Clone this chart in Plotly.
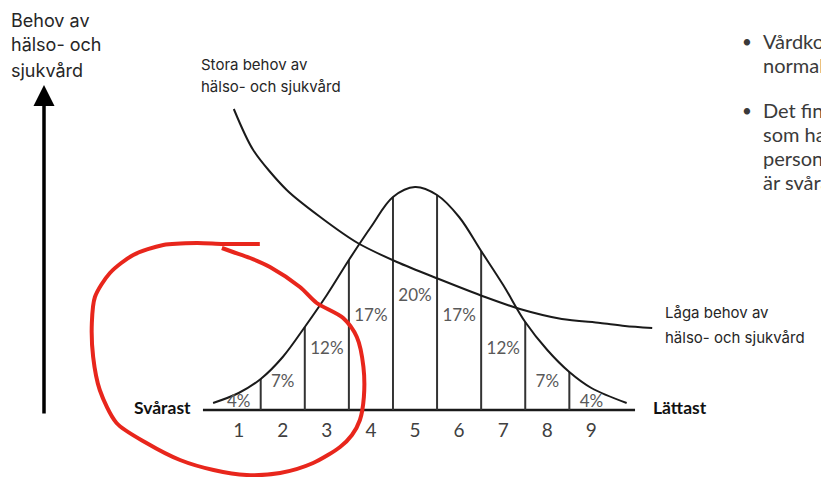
import plotly.graph_objects as go

# -------------------------------------------------------------------
# Data
# x is in "category units" (1..9 = difficulty step), h is height above
# the baseline in the picture's own units.
# -------------------------------------------------------------------
categories = [1, 2, 3, 4, 5, 6, 7, 8, 9]
tick_labels = ["1", "2", "3", "4", "5", "6", "7", "8", "9"]
shares = [4, 7, 12, 17, 20, 17, 12, 7, 4]

bell_x = [0.42, 1.0, 1.5, 2.0, 2.5, 3.0, 3.5, 4.0, 4.5, 5.0, 5.5, 6.0, 6.5, 7.0, 7.5, 8.0, 8.5, 9.0, 9.8]
bell_h = [7, 17, 31, 53, 83, 115, 150, 183, 213, 223, 215, 193, 159, 125, 88, 60, 38, 22, 7]

need_x = [0.89, 1.33, 2.09, 2.85, 3.70, 4.59, 5.54, 6.59, 7.38, 8.33, 9.20, 9.76, 10.38]
need_h = [301, 260, 220, 193, 167, 148, 131, 113, 101, 91, 87, 84, 82]

circle_x = [0.62, 0.87, 1.26, 1.71, 2.39, 2.77, 3.37, 3.68, 3.83, 3.84, 3.75, 3.57, 3.30,
            2.69, 1.94, 1.18, 0.43, -0.33, -1.09, -1.77, -2.15, -2.30, -2.33, -2.26,
            -1.92, -1.39, -0.71, 0.05, 0.65, 1.48]
circle_h = [162, 158, 152, 143, 123, 107, 92, 73, 43, 13, -10, -25, -37,
            -53, -63, -65, -60, -50, -33, -13, 20, 53, 87, 113,
            137, 155, 165, 167, 166, 166]

bullet_lines = [
    ["Vårdkonsumtionen är", "normalfördelad"],
    ["Det finns en grupp", "som har stora behov,", "personer vars behov", "är svårast att möta"],
]

W, H = 821, 477
X_RANGE = [-4.413, 14.208]
Y_RANGE = [-67, 410]

INK = "#1a1a1a"
GREY = "#595959"
RED = "#e8261c"


def px(x):
    return x / W


def py(y):
    return 1 - y / H


def text_note(text, x, y, size, font="Inter", color="#262626", anchor="left", bold=False):
    if bold:
        text = f"<b>{text}</b>"
    return dict(
        text=text, x=px(x), y=py(y), xref="paper", yref="paper",
        xanchor=anchor, yanchor="middle", showarrow=False,
        font=dict(family=font, size=size, color=color),
    )


fig = go.Figure()

# baseline
fig.add_trace(go.Scatter(
    x=[bell_x[0] - 0.23, bell_x[-1] + 0.19], y=[0, 0],
    mode="lines", line=dict(color=INK, width=2.5), hoverinfo="skip",
))

# vertical separators between categories, up to the curve
bell_lookup = dict(zip(bell_x, bell_h))
for c in categories[:-1]:
    b = c + 0.5
    fig.add_trace(go.Scatter(
        x=[b, b], y=[0, bell_lookup[b]],
        mode="lines", line=dict(color="#333333", width=2), hoverinfo="skip",
    ))

# bell curve
fig.add_trace(go.Scatter(
    x=bell_x, y=bell_h, mode="lines",
    line=dict(color=INK, width=2, shape="spline", smoothing=1.0), hoverinfo="skip",
))

# decreasing need curve
fig.add_trace(go.Scatter(
    x=need_x, y=need_h, mode="lines",
    line=dict(color=INK, width=2, shape="spline", smoothing=0.8), hoverinfo="skip",
))

# percentage labels inside each band
fig.add_trace(go.Scatter(
    x=categories, y=[6.6 * s - 19 for s in shares],
    mode="text", text=[f"{s}%" for s in shares],
    textfont=dict(family="Lato", size=17, color=GREY), hoverinfo="skip",
))

# category numbers under the baseline
fig.add_trace(go.Scatter(
    x=categories, y=[-22] * len(categories),
    mode="text", text=tick_labels,
    textfont=dict(family="Lato", size=19, color="#404040"), hoverinfo="skip",
))

# red hand drawn circle
fig.add_trace(go.Scatter(
    x=circle_x, y=circle_h, mode="lines",
    line=dict(color=RED, width=4, shape="spline", smoothing=0.8), hoverinfo="skip",
))

annotations = [
    text_note("Behov av", 9, 21, 18),
    text_note("hälso- och", 9, 45, 18),
    text_note("sjukvård", 9, 70, 18),
    text_note("Stora behov av", 199, 64, 15),
    text_note("hälso- och sjukvård", 199, 86, 15),
    text_note("Låga behov av", 663, 312, 15),
    text_note("hälso- och sjukvård", 663, 337, 15),
    text_note("Svårast", 193, 407, 17.5, font="Lato", color="#111111", anchor="right", bold=True),
    text_note("Lättast", 651, 407, 17.5, font="Lato", color="#111111", bold=True),
]

# the upward arrow on the left (tail 330 px below the head)
annotations.append(dict(
    x=px(44), y=py(85), ax=0, ay=330,
    xref="paper", yref="paper", axref="pixel", ayref="pixel",
    showarrow=True, arrowhead=2, arrowsize=1.2, arrowwidth=3.5, arrowcolor="#000000", text="",
))

# bullet text at the right edge (cut by the frame, as in the slide)
line_y = 41
for group in bullet_lines:
    annotations.append(text_note("•", 740, line_y, 17, font="Lato", color="#3a3a3a"))
    for line in group:
        annotations.append(text_note(line, 761, line_y, 20, font="Lato", color="#3a3a3a"))
        line_y += 24
    line_y += 21

fig.update_layout(
    width=W, height=H,
    margin=dict(l=0, r=0, t=0, b=0),
    paper_bgcolor="white", plot_bgcolor="white",
    showlegend=False,
    xaxis=dict(range=X_RANGE, visible=False, fixedrange=True),
    yaxis=dict(range=Y_RANGE, visible=False, fixedrange=True),
    annotations=annotations,
)

fig.write_html(
    "out.html",
    config={"displayModeBar": False},
    post_script="document.body.style.margin='0px';",
)
